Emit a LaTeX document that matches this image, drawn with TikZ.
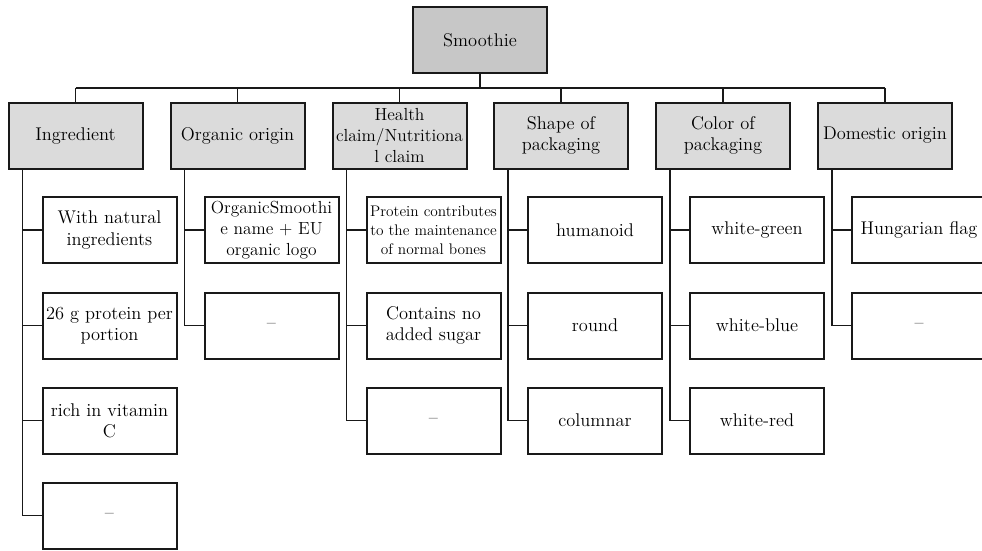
\documentclass[tikz,border=0pt]{standalone}
\begin{document}
\begin{tikzpicture}[x=0.75pt,y=-0.75pt,
  box/.style={draw=black!90,line width=1.5pt,rectangle,minimum width=100.5pt,minimum height=49.5pt,inner sep=1pt,align=center,font=\fontsize{13.8}{16}\selectfont},
  rootbox/.style={box,fill=black!22},
  catbox/.style={box,fill=black!14},
  leafbox/.style={box,fill=white},
  small/.style={font=\fontsize{11.5}{14.2}\selectfont},
  tight/.style={font=\fontsize{13.1}{16}\selectfont},
  conn/.style={draw=black!90,line width=1.35pt}]
\useasboundingbox (0,0) rectangle (982,550);
\node[rootbox] (root) at (480,40) {Smoothie};
\coordinate (bus) at (0,88);
\node[catbox] (c1) at (75.5,135.5) {Ingredient};
\node[catbox] (c2) at (237.5,135.5) {Organic origin};
\node[catbox,tight] (c3) at (399.5,135.5) {Health\\claim/Nutritiona\\l claim};
\node[catbox] (c4) at (561,135.5) {Shape of\\packaging};
\node[catbox] (c5) at (723,135.5) {Color of\\packaging};
\node[catbox] (c6) at (885,135.5) {Domestic origin};
% leaves
\node[leafbox] (l11) at (109.5,230) {With natural\\ingredients};
\node[leafbox] (l12) at (109.5,325.5) {26 g protein per\\portion};
\node[leafbox] (l13) at (109.5,420.5) {rich in vitamin\\C};
\node[leafbox] (l14) at (109.5,515.5) {--};
\node[leafbox,tight] (l21) at (271.5,230) {OrganicSmoothi\\e name + EU\\organic logo};
\node[leafbox] (l22) at (271.5,325.5) {--};
\node[leafbox,small] (l31) at (433.5,230) {Protein contributes\\to the maintenance\\of normal bones};
\node[leafbox] (l32) at (433.5,325.5) {Contains no\\added sugar};
\node[leafbox] (l33) at (433.5,420.5) {--};
\node[leafbox] (l41) at (595,230) {humanoid};
\node[leafbox] (l42) at (595,325.5) {round};
\node[leafbox] (l43) at (595,420.5) {columnar};
\node[leafbox] (l51) at (757,230) {white-green};
\node[leafbox] (l52) at (757,325.5) {white-blue};
\node[leafbox] (l53) at (757,420.5) {white-red};
\node[leafbox] (l61) at (919,230) {Hungarian flag};
\node[leafbox] (l62) at (919,325.5) {--};
% top connectors
\draw[conn] (root.south) -- (root.south |- bus);
\draw[conn] (c1.north |- bus) -- (c6.north |- bus);
\foreach \c in {c1,c2,c3,c4,c5,c6} \draw[conn] (\c.north) -- (\c.north |- bus);
% trunks
\foreach \p/\leaves in {c1/{l11,l12,l13,l14},c2/{l21,l22},c3/{l31,l32,l33},c4/{l41,l42,l43},c5/{l51,l52,l53},c6/{l61,l62}}{
  \coordinate (t) at ([xshift=-39.75pt]\p.south);
  \foreach \l in \leaves \draw[conn] (t) |- (\l.west);
}
\end{tikzpicture}
\end{document}
